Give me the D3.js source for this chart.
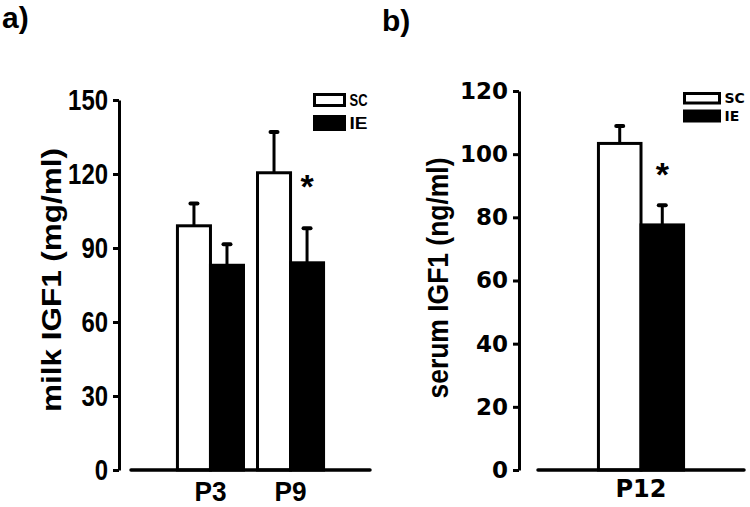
<!DOCTYPE html>
<html>
<head>
<meta charset="utf-8">
<script src="https://cdn.jsdelivr.net/npm/d3@7"></script>
<style>
  body { margin: 0; background: #fff; }
  svg { display: block; }
  .narrow { font-family: "Liberation Sans", Arial, sans-serif; font-weight: bold; }
  .wide { font-family: "DejaVu Sans", sans-serif; font-weight: bold; }
  .sans { font-family: "Liberation Sans", Arial, sans-serif; font-weight: bold; }
</style>
</head>
<body>
<script>
// panel a: milk IGF1
const milkDays = ["P3", "P9"];
const milkSC = [99, 120.5];
const milkSCsem = [9, 16.5];
const milkIE = [83, 84];
const milkIEsem = [8.5, 14];
const milkTicks = [0, 30, 60, 90, 120, 150];
const milkStars = ["", "*"];

// panel b: serum IGF1
const serumDays = ["P12"];
const serumSC = [103.4];
const serumSCsem = [5.5];
const serumIE = [77.6];
const serumIEsem = [6.2];
const serumTicks = [0, 20, 40, 60, 80, 100, 120];
const serumStars = ["*"];

const groups = ["SC", "IE"];

const svg = d3.select("body").append("svg")
  .attr("width", 750)
  .attr("height", 507);

// panel letters
svg.append("text").attr("class", "sans").attr("x", 2).attr("y", 28)
  .style("font-size", "30px").text("a)");
svg.append("text").attr("class", "sans").attr("x", 382).attr("y", 31)
  .style("font-size", "30px").text("b)");

// squeeze text into a condensed look when the panel asks for it
function squeeze(sel, charW) {
  if (!charW) return;
  sel.attr("textLength", function() { return this.textContent.length * charW; })
    .attr("lengthAdjust", "spacingAndGlyphs");
}

function drawPanel(opt) {
  const g = svg.append("g");
  const y = d3.scaleLinear().domain(opt.yDomain).range([470, opt.yTop]);
  const x = d3.scaleBand().domain(opt.days).range(opt.xRange)
    .paddingInner(opt.padIn).paddingOuter(opt.padOut);
  const xs = d3.scaleBand().domain(groups).range([0, x.bandwidth()]);

  // y axis
  const yAxis = g.append("g")
    .attr("transform", `translate(${opt.axisX},0)`)
    .call(d3.axisLeft(y).tickValues(opt.ticks).tickSize(6).tickSizeOuter(0).tickPadding(opt.tickPad));
  yAxis.attr("font-family", null).attr("font-size", null);
  yAxis.select(".domain").attr("stroke", "#000").attr("stroke-width", 3);
  yAxis.selectAll(".tick line").attr("stroke", "#000").attr("stroke-width", 3);
  yAxis.selectAll(".tick text")
    .attr("class", opt.tickClass)
    .attr("fill", "#000")
    .style("font-size", opt.tickSize + "px")
    .call(squeeze, opt.charW);

  // bars
  const series = [
    { key: "SC", vals: opt.sc, sem: opt.scSem, fill: "#fff" },
    { key: "IE", vals: opt.ie, sem: opt.ieSem, fill: "#000" }
  ];
  series.forEach(s => {
    const bx = d => x(d) + xs(s.key);
    // error bars (upper only)
    g.selectAll(null).data(opt.days).enter().append("line")
      .attr("x1", (d) => bx(d) + xs.bandwidth() / 2)
      .attr("x2", (d) => bx(d) + xs.bandwidth() / 2)
      .attr("y1", (d, i) => y(s.vals[i]))
      .attr("y2", (d, i) => y(s.vals[i] + s.sem[i]))
      .attr("stroke", "#000").attr("stroke-width", 3);
    g.selectAll(null).data(opt.days).enter().append("line")
      .attr("x1", (d) => bx(d) + xs.bandwidth() / 2 - 3.5)
      .attr("x2", (d) => bx(d) + xs.bandwidth() / 2 + 3.5)
      .attr("y1", (d, i) => y(s.vals[i] + s.sem[i]))
      .attr("y2", (d, i) => y(s.vals[i] + s.sem[i]))
      .attr("stroke", "#000").attr("stroke-width", 4).attr("stroke-linecap", "round");
    g.selectAll(null).data(opt.days).enter().append("rect")
      .attr("x", bx)
      .attr("width", xs.bandwidth())
      .attr("y", (d, i) => y(s.vals[i]))
      .attr("height", (d, i) => y(0) - y(s.vals[i]))
      .attr("fill", s.fill)
      .attr("stroke", "#000").attr("stroke-width", 3);
  });

  // significance stars
  g.selectAll(null).data(opt.days).enter().append("text")
    .attr("class", "sans")
    .attr("x", d => x(d) + xs("IE") + xs.bandwidth() / 2)
    .attr("y", (d, i) => y(opt.sc[i]) + opt.starDy)
    .attr("text-anchor", "middle")
    .style("font-size", "34px")
    .text((d, i) => opt.stars[i]);

  // x axis baseline
  g.append("line")
    .attr("x1", opt.xRange[0]).attr("x2", opt.xRange[1])
    .attr("y1", y(0)).attr("y2", y(0))
    .attr("stroke", "#000").attr("stroke-width", 3.5).attr("stroke-linecap", "round");

  // category labels
  g.selectAll(null).data(opt.days).enter().append("text")
    .attr("class", opt.tickClass)
    .attr("x", d => x(d) + x.bandwidth() / 2)
    .attr("y", opt.catY)
    .attr("text-anchor", "middle")
    .style("font-size", opt.catSize + "px")
    .text(d => d)
    .call(squeeze, opt.catW);

  // y label
  g.append("text")
    .attr("class", "sans")
    .attr("transform", `translate(${opt.labelX},${opt.labelY}) rotate(-90)`)
    .attr("text-anchor", "middle")
    .attr("textLength", opt.labelLen)
    .attr("lengthAdjust", "spacingAndGlyphs")
    .style("font-size", opt.labelSize + "px")
    .text(opt.label);

  // legend
  const lg = g.append("g");
  groups.forEach((k, i) => {
    const b = opt.legend.boxes[i];
    lg.append("rect")
      .attr("x", opt.legend.x).attr("y", b[0])
      .attr("width", opt.legend.w).attr("height", b[1])
      .attr("fill", k === "SC" ? "#fff" : "#000")
      .attr("stroke", "#000").attr("stroke-width", 3);
    lg.append("text")
      .attr("class", opt.legend.cls)
      .attr("x", opt.legend.x + opt.legend.w + 5)
      .attr("y", b[0] + b[1] / 2)
      .attr("dy", "0.36em")
      .style("font-size", opt.legend.size + "px")
      .text(k)
      .call(squeeze, opt.legend.charW);
  });
}

drawPanel({
  days: milkDays, sc: milkSC, scSem: milkSCsem, ie: milkIE, ieSem: milkIEsem,
  stars: milkStars, ticks: milkTicks,
  yDomain: [0, 150], yTop: 100, axisX: 119,
  xRange: [131, 370], padIn: 0.175, padOut: 0.58,
  tickClass: "narrow", tickSize: 29, tickPad: 5, charW: 13.3,
  catY: 501, catSize: 28, catW: 16, starDy: 25,
  label: "milk IGF1  (mg/ml)", labelX: 61, labelY: 280, labelLen: 264, labelSize: 28,
  legend: { x: 314.5, w: 30, boxes: [[94.5, 11], [116.5, 13]], cls: "narrow", size: 16, charW: 9 }
});

drawPanel({
  days: serumDays, sc: serumSC, scSem: serumSCsem, ie: serumIE, ieSem: serumIEsem,
  stars: serumStars, ticks: serumTicks,
  yDomain: [0, 120], yTop: 91, axisX: 519,
  xRange: [538, 744], padIn: 0, padOut: 0.71,
  tickClass: "wide", tickSize: 23, tickPad: 5, charW: 0,
  catY: 497, catSize: 24, catW: 0, starDy: 43,
  label: "serum IGF1 (ng/ml)", labelX: 448, labelY: 278, labelLen: 241, labelSize: 29,
  legend: { x: 684.5, w: 35, boxes: [[93.5, 9.5], [111, 10]], cls: "wide", size: 14, charW: 0 }
});
</script>
</body>
</html>
